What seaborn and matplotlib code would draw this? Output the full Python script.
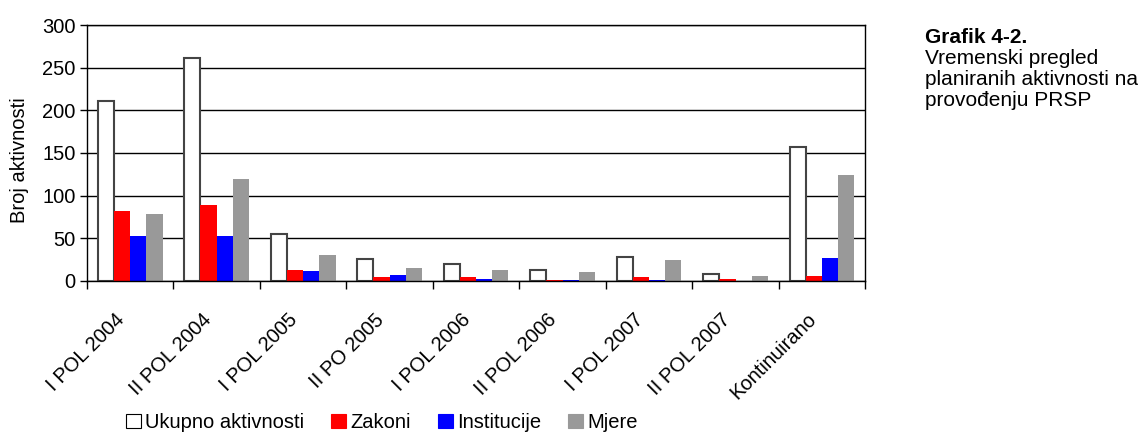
import numpy as np
import pandas as pd
import seaborn as sns
import matplotlib.pyplot as plt
import matplotlib.transforms as mtransforms
from matplotlib.patches import Patch

# Data
periods = ["I POL 2004", "II POL 2004", "I POL 2005", "II PO 2005", "I POL 2006",
           "II POL 2006", "I POL 2007", "II POL 2007", "Kontinuirano"]
series = ["Ukupno aktivnosti", "Zakoni", "Institucije", "Mjere"]
ukupno = [211, 261, 55, 26, 20, 13, 28, 8, 157]
zakoni = [82, 89, 13, 5, 5, 1, 4, 2, 6]
institucije = [52, 53, 11, 7, 2, 1, 1, 0, 27]
mjere = [78, 120, 30, 15, 13, 10, 24, 6, 124]
colors = ["white", "#ff0000", "#0000ff", "#999999"]

df = pd.DataFrame({
    "period": periods * 4,
    "serija": np.repeat(series, len(periods)),
    "vrijednost": ukupno + zakoni + institucije + mjere,
})

sns.set_style("white")
plt.rcParams["font.family"] = ["Liberation Sans", "DejaVu Sans"]
plt.rcParams.update({"text.color": "black", "axes.labelcolor": "black",
                     "xtick.color": "black", "ytick.color": "black"})

fig = plt.figure(figsize=(11.43, 4.32), dpi=100)
ax = fig.add_axes([0.076, 0.350, 0.681, 0.592])

sns.barplot(data=df, x="period", y="vrijednost", hue="serija", order=periods,
            hue_order=series, palette=colors, width=0.75, linewidth=0,
            saturation=1, ax=ax, legend=False)

# outline on the white bars only
for bar in ax.containers[0]:
    bar.set_edgecolor("#444444")
    bar.set_linewidth(1.5)

ax.set_ylim(0, 300)
ax.set_xlim(-0.5, len(periods) - 0.5)
ax.set_yticks(range(0, 301, 50))
ax.yaxis.grid(True, color="black", linewidth=1)
ax.set_axisbelow(True)
for s in ax.spines.values():
    s.set_color("black")
    s.set_linewidth(1)

# Excel-style ticks between categories, labels at centres
ax.set_xticks(np.arange(-0.5, len(periods), 1))
ax.set_xticklabels([])
ax.set_xticks(range(len(periods)), minor=True)
ax.tick_params(axis="x", which="major", length=6, width=1, direction="out", bottom=True)
ax.tick_params(axis="x", which="minor", length=0, pad=21)
ax.tick_params(axis="y", length=5, width=1, direction="out", left=True, labelsize=14.5, pad=3)
ax.set_xticklabels(periods, minor=True, rotation=45, ha="right",
                   rotation_mode="anchor", fontsize=14.5)
# nudge the rotated labels a bit to the left, like the original
shift = mtransforms.ScaledTranslation(-11 / 72, 0, fig.dpi_scale_trans)
for t in ax.xaxis.get_minor_ticks():
    t.label1.set_transform(t.label1.get_transform() + shift)
ax.set_xlabel("")
ax.set_ylabel("Broj aktivnosti", fontsize=14.5)
ax.yaxis.set_label_coords(-0.074, 0.473)

handles = [Patch(facecolor=c, edgecolor="black" if c == "white" else c, linewidth=0.8)
           for c in colors]
fig.legend(handles, series, loc="lower center", bbox_to_anchor=(0.334, -0.042),
           ncol=4, frameon=False, fontsize=14.5, handlelength=0.75, handleheight=0.75,
           handletextpad=0.2, columnspacing=1.35)

fig.text(0.809, 0.935, "Grafik 4-2.", fontsize=15, fontweight="bold", va="top")
fig.text(0.809, 0.935 - 21 / 432, "Vremenski pregled\nplaniranih aktivnosti na\nprovođenju PRSP",
         fontsize=15, va="top", linespacing=1.12)

fig.savefig("out.png", dpi=100)
